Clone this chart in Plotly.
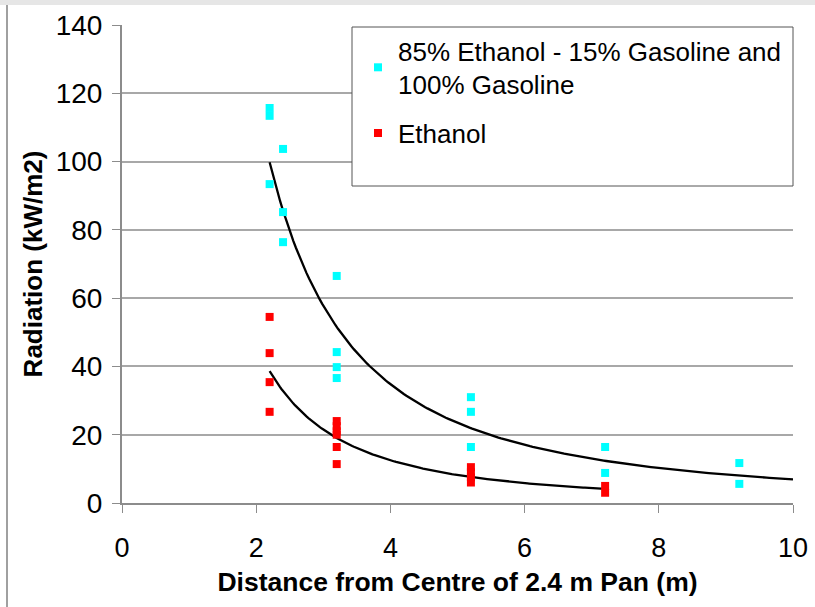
import numpy as np
import plotly.graph_objects as go

# --- data ---
mix_x = [2.2, 2.2, 2.4, 2.2, 2.4, 2.4, 3.2, 3.2, 3.2, 3.2, 5.2, 5.2, 5.2, 7.2, 7.2, 9.2, 9.2]
mix_y = [115.7, 113.4, 103.7, 93.4, 85.2, 76.4, 66.5, 44.2, 39.8, 36.6, 31.0, 26.7, 16.4, 16.4, 8.8, 11.7, 5.6]
eth_x = [2.2, 2.2, 2.2, 2.2, 3.2, 3.2, 3.2, 3.2, 3.2, 3.2, 5.2, 5.2, 5.2, 5.2, 7.2, 7.2]
eth_y = [54.5, 43.9, 35.4, 26.7, 24.0, 22.5, 21.0, 20.0, 16.4, 11.4, 10.5, 9.0, 7.5, 6.0, 5.0, 3.0]

mix_name = "85% Ethanol - 15% Gasoline and<br>100% Gasoline"
eth_name = "Ethanol"
x_ticks = [0, 2, 4, 6, 8, 10]
y_ticks = [0, 20, 40, 60, 80, 100, 120, 140]
mix_trend_range = [2.2, 10]
eth_trend_range = [2.2, 7.2]


def power_fit(xs, ys, xr):
    b, lna = np.polyfit(np.log(xs), np.log(ys), 1)
    xx = np.linspace(xr[0], xr[1], 200)
    return xx, np.exp(lna) * xx ** b


fig = go.Figure()
mx, my = power_fit(mix_x, mix_y, mix_trend_range)
ex, ey = power_fit(eth_x, eth_y, eth_trend_range)
fig.add_trace(go.Scatter(x=mx, y=my, mode="lines", line=dict(color="black", width=2.3),
                         showlegend=False, hoverinfo="skip"))
fig.add_trace(go.Scatter(x=ex, y=ey, mode="lines", line=dict(color="black", width=2.3),
                         showlegend=False, hoverinfo="skip"))
fig.add_trace(go.Scatter(x=mix_x, y=mix_y, mode="markers", name=mix_name,
                         marker=dict(symbol="square", size=8, color="#00FFFF"),
                         legendgroup="a"))
fig.add_trace(go.Scatter(x=eth_x, y=eth_y, mode="markers", name=eth_name,
                         marker=dict(symbol="square", size=8, color="#FF0000"),
                         legendgroup="b"))

font = "Liberation Sans, Arial, sans-serif"
L, T, W, H = 122, 25, 671, 478


def px_x(p):
    return (p - L) / W


def px_y(p):
    return (T + H - p) / H


fig.update_layout(
    width=815, height=607,
    margin=dict(l=L, r=815 - L - W, t=T, b=607 - T - H, autoexpand=False),
    paper_bgcolor="white", plot_bgcolor="white",
    font=dict(family=font, color="black", size=26),
    showlegend=True,
    legend=dict(x=px_x(358), y=px_y(27), xanchor="left", yanchor="top",
                bgcolor="rgba(0,0,0,0)", borderwidth=0,
                font=dict(size=26, family=font), tracegroupgap=12),
    xaxis=dict(range=[0, 10], tickvals=x_ticks, showgrid=False, zeroline=False,
               showline=True, linecolor="#8c8c8c", linewidth=2, automargin=False,
               ticks="outside", ticklen=8, tickcolor="#8c8c8c", tickwidth=1,
               tickfont=dict(size=27), ticklabelstandoff=12,
               title=dict(text="<b>Distance from Centre of 2.4 m Pan (m)</b>",
                          font=dict(size=26.5), standoff=10)),
    yaxis=dict(range=[0, 140], tickvals=y_ticks, showgrid=True, gridcolor="#a8a8a8",
               gridwidth=1.5, zeroline=False, automargin=False,
               showline=True, linecolor="#8c8c8c", linewidth=2,
               ticks="outside", ticklen=8, tickcolor="#8c8c8c", tickwidth=1,
               tickfont=dict(size=28), ticklabelstandoff=4,
               title=dict(text="<b>Radiation (kW/m2)</b>", font=dict(size=26), standoff=6)),
    shapes=[
        dict(type="rect", xref="paper", yref="paper", x0=px_x(352), x1=px_x(793),
             y0=px_y(186), y1=px_y(27), line=dict(color="#555555", width=1),
             fillcolor="white", layer="above"),
        dict(type="rect", xref="paper", yref="paper", x0=px_x(0), x1=px_x(815),
             y0=px_y(5), y1=px_y(0),
             line=dict(width=0), fillcolor="#e6e6e6", layer="below"),
        dict(type="line", xref="paper", yref="paper", x0=px_x(7), x1=px_x(7),
             y0=px_y(607), y1=px_y(5), line=dict(color="#a0a0a0", width=2)),
    ],
)
fig.write_html("out.html", config={"displayModeBar": False},
               post_script="document.body.style.margin='0';")
